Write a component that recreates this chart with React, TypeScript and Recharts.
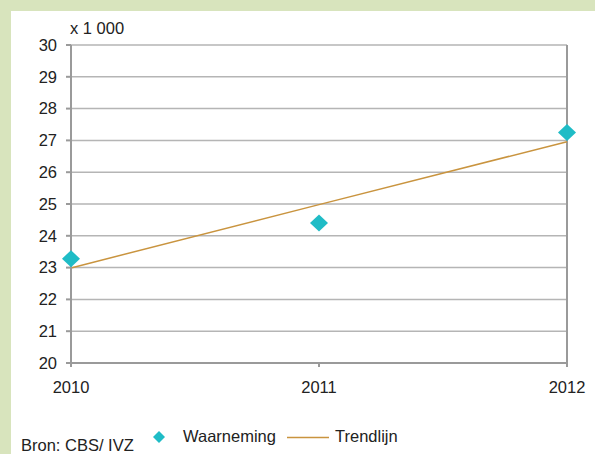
import React from "react";
import { ComposedChart, Line, XAxis, YAxis, CartesianGrid, ReferenceLine } from "recharts";

const years = [2010, 2011, 2012];
const observations = [23.28, 24.4, 27.25];
const trendValues = [22.99, 24.98, 26.96];
const yTicks = [20, 21, 22, 23, 24, 25, 26, 27, 28, 29, 30];

const data = years.map((y, i) => ({ year: y, obs: observations[i], trend: trendValues[i] }));

const FONT = "'Liberation Sans', Arial, sans-serif";
const TEAL = "#1fbcc6";
const TREND = "#c9943f";

const Diamond = (props: any) => {
  const { cx, cy } = props;
  if (cx == null || cy == null) return null;
  const w = 9;
  const h = 8.5;
  return (
    <polygon
      points={`${cx},${cy - h} ${cx + w},${cy} ${cx},${cy + h} ${cx - w},${cy}`}
      fill={TEAL}
      stroke="none"
    />
  );
};

const textStyle: React.CSSProperties = {
  position: "absolute",
  whiteSpace: "nowrap",
  lineHeight: "16px",
  fontFamily: FONT,
  fontSize: 16.5,
  color: "#222",
};

export default function App() {
  return (
    <div style={{ position: "absolute", left: 0, top: 0, width: 595, height: 454, background: "#d8e4bd", overflow: "hidden" }}>
      <div style={{ position: "absolute", left: 11, top: 11, width: 584, height: 443, background: "#ffffff" }} />
      <div style={{ ...textStyle, left: 70, top: 20 }}>x 1 000</div>
      <div style={{ position: "absolute", left: 0, top: 0 }}>
        <ComposedChart
          width={595}
          height={454}
          data={data}
          margin={{ top: 45, right: 28, bottom: 61, left: 0 }}
        >
          <CartesianGrid horizontal={true} vertical={false} stroke="#b5b5b5" strokeWidth={1.5} />
          <XAxis
            dataKey="year"
            type="number"
            domain={[2010, 2012]}
            ticks={years}
            tickSize={4}
            tickMargin={14}
            stroke="#9a9a9a"
            strokeWidth={2}
            tick={{ fill: "#222", fontFamily: FONT, fontSize: 16.5 }}
            height={30}
          />
          <YAxis
            type="number"
            domain={[20, 30]}
            ticks={yTicks}
            interval={0}
            width={71}
            tickSize={5}
            tickMargin={9}
            stroke="#9a9a9a"
            strokeWidth={2}
            tick={{ fill: "#222", fontFamily: FONT, fontSize: 16.5 }}
          />
          <ReferenceLine x={2012} stroke="#9a9a9a" strokeWidth={2} />
          <Line
            dataKey="trend"
            stroke={TREND}
            strokeWidth={1.5}
            dot={false}
            isAnimationActive={false}
            name="Trendlijn"
          />
          <Line
            dataKey="obs"
            stroke="none"
            dot={<Diamond />}
            activeDot={false}
            isAnimationActive={false}
            name="Waarneming"
          />
        </ComposedChart>
      </div>
      <div style={{ ...textStyle, left: 21, top: 437 }}>Bron: CBS/ IVZ</div>
      <svg style={{ position: "absolute", left: 152, top: 430 }} width={14} height={14}>
        <polygon points="7,1 13,7 7,13 1,7" fill={TEAL} />
      </svg>
      <div style={{ ...textStyle, left: 183, top: 428 }}>Waarneming</div>
      <svg style={{ position: "absolute", left: 287, top: 436 }} width={42} height={3}>
        <line x1={0} y1={1.5} x2={42} y2={1.5} stroke={TREND} strokeWidth={1.5} />
      </svg>
      <div style={{ ...textStyle, left: 335, top: 428 }}>Trendlijn</div>
    </div>
  );
}
